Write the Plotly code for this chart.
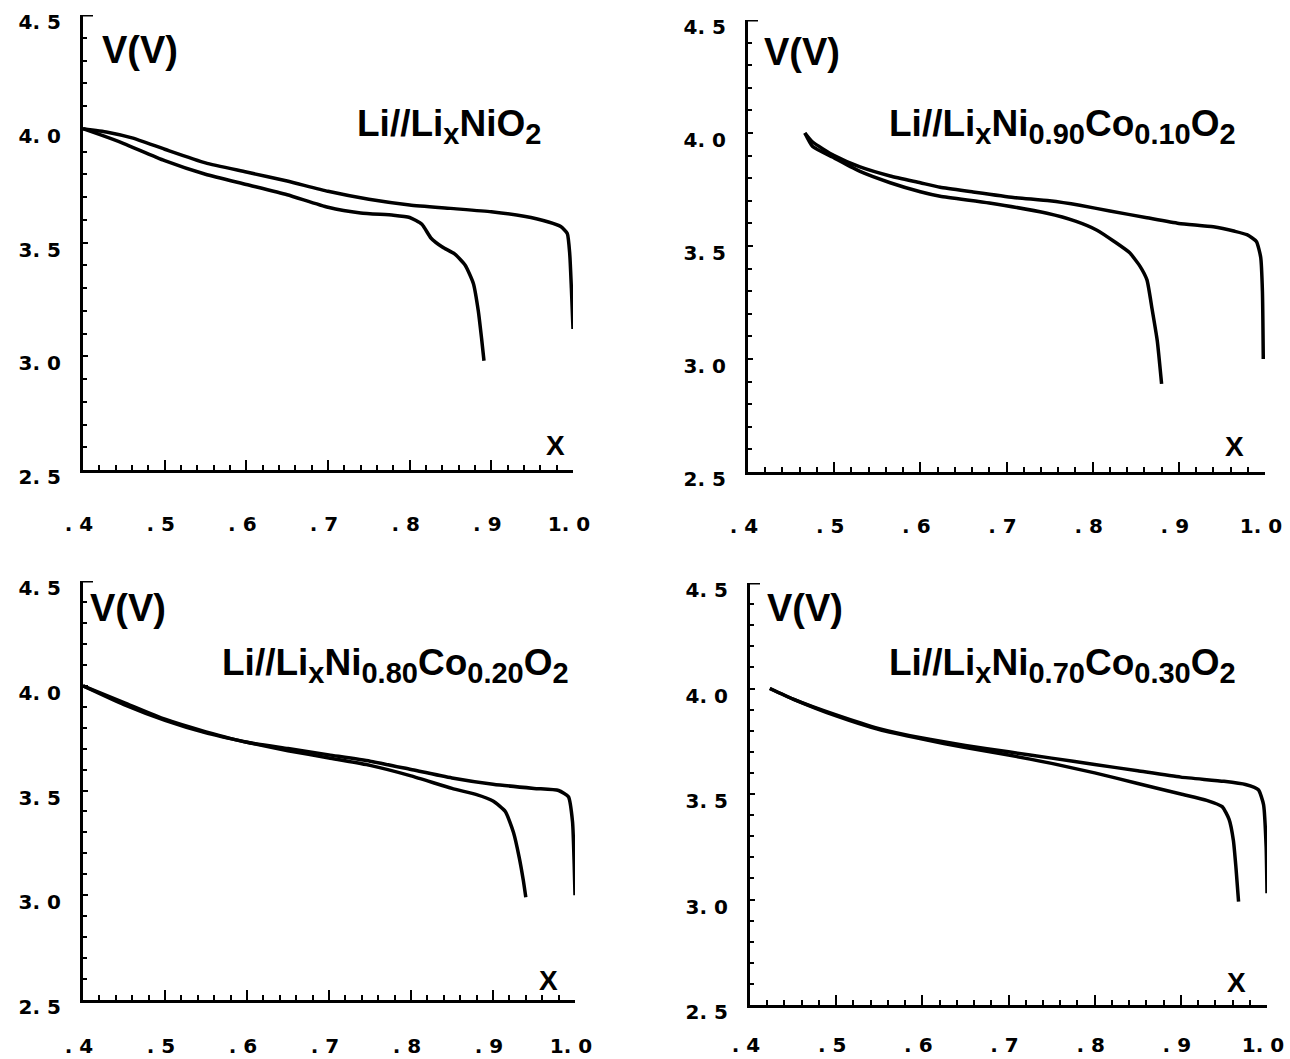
import plotly.graph_objects as go
from plotly.subplots import make_subplots

W, H = 1290, 1059

# ---------------- data ----------------
SUB = '<sub><span style="font-size:29px">{}</span></sub>'
titles = [
    "Li//Li" + SUB.format("x") + "NiO" + SUB.format("2"),
    "Li//Li" + SUB.format("x") + "Ni" + SUB.format("0.90") + "Co" + SUB.format("0.10") + "O" + SUB.format("2"),
    "Li//Li" + SUB.format("x") + "Ni" + SUB.format("0.80") + "Co" + SUB.format("0.20") + "O" + SUB.format("2"),
    "Li//Li" + SUB.format("x") + "Ni" + SUB.format("0.70") + "Co" + SUB.format("0.30") + "O" + SUB.format("2"),
]

x_tickvals = [0.4, 0.5, 0.6, 0.7, 0.8, 0.9, 1.0]
x_ticktext = [". 4", ". 5", ". 6", ". 7", ". 8", ". 9", "1. 0"]
y_tickvals = [2.5, 3.0, 3.5, 4.0, 4.5]
y_ticktext = ["2. 5", "3. 0", "3. 5", "4. 0", "4. 5"]

# panel 1 : LiNiO2
chg1_x = [0.400, 0.430, 0.460, 0.500, 0.550, 0.600, 0.650, 0.700, 0.750, 0.800, 0.850, 0.900, 0.940, 0.970, 0.985, 0.993, 0.996, 0.998, 1.000]
chg1_v = [4.00, 3.985, 3.96, 3.91, 3.85, 3.81, 3.77, 3.725, 3.69, 3.665, 3.65, 3.635, 3.615, 3.59, 3.57, 3.54, 3.45, 3.30, 3.12]
dis1_x = [0.400, 0.420, 0.450, 0.500, 0.550, 0.600, 0.650, 0.700, 0.740, 0.780, 0.800, 0.815, 0.826, 0.840, 0.855, 0.868, 0.878, 0.884, 0.888, 0.891]
dis1_v = [4.00, 3.975, 3.935, 3.86, 3.80, 3.755, 3.71, 3.655, 3.63, 3.62, 3.61, 3.58, 3.52, 3.48, 3.45, 3.40, 3.32, 3.20, 3.08, 2.98]

# panel 2 : Ni0.90Co0.10
chg2_x = [0.466, 0.475, 0.500, 0.530, 0.565, 0.600, 0.623, 0.660, 0.708, 0.750, 0.785, 0.820, 0.863, 0.900, 0.940, 0.965, 0.979, 0.990, 0.995, 0.997, 0.998]
chg2_v = [4.00, 3.96, 3.90, 3.85, 3.81, 3.78, 3.76, 3.74, 3.715, 3.70, 3.68, 3.655, 3.625, 3.60, 3.585, 3.565, 3.55, 3.52, 3.45, 3.30, 3.00]
dis2_x = [0.466, 0.475, 0.500, 0.530, 0.565, 0.600, 0.623, 0.680, 0.747, 0.780, 0.805, 0.825, 0.843, 0.855, 0.863, 0.869, 0.875, 0.880]
dis2_v = [4.00, 3.94, 3.89, 3.83, 3.78, 3.74, 3.72, 3.69, 3.645, 3.61, 3.57, 3.52, 3.47, 3.41, 3.35, 3.22, 3.08, 2.89]

# panel 3 : Ni0.80Co0.20
chg3_x = [0.400, 0.450, 0.500, 0.550, 0.600, 0.650, 0.700, 0.750, 0.800, 0.850, 0.900, 0.950, 0.980, 0.992, 0.997, 0.999, 1.000]
chg3_v = [4.00, 3.92, 3.84, 3.78, 3.73, 3.70, 3.67, 3.64, 3.60, 3.56, 3.53, 3.51, 3.50, 3.47, 3.35, 3.15, 3.00]
dis3_x = [0.400, 0.450, 0.500, 0.550, 0.600, 0.650, 0.700, 0.750, 0.800, 0.850, 0.880, 0.900, 0.915, 0.925, 0.932, 0.937, 0.940]
dis3_v = [4.00, 3.91, 3.835, 3.775, 3.73, 3.69, 3.655, 3.62, 3.57, 3.51, 3.48, 3.45, 3.40, 3.30, 3.18, 3.07, 2.99]

# panel 4 : Ni0.70Co0.30
chg4_x = [0.423, 0.450, 0.500, 0.550, 0.600, 0.650, 0.700, 0.750, 0.800, 0.850, 0.900, 0.950, 0.975, 0.990, 0.996, 0.999, 1.000]
chg4_v = [4.00, 3.95, 3.875, 3.81, 3.765, 3.73, 3.70, 3.67, 3.64, 3.61, 3.58, 3.56, 3.545, 3.52, 3.45, 3.25, 3.03]
dis4_x = [0.423, 0.450, 0.500, 0.550, 0.600, 0.650, 0.700, 0.750, 0.800, 0.850, 0.900, 0.930, 0.948, 0.956, 0.961, 0.964, 0.967]
dis4_v = [4.00, 3.95, 3.87, 3.805, 3.76, 3.72, 3.685, 3.645, 3.60, 3.55, 3.50, 3.47, 3.44, 3.38, 3.28, 3.15, 2.99]

panels = [
    (chg1_x, chg1_v, dis1_x, dis1_v),
    (chg2_x, chg2_v, dis2_x, dis2_v),
    (chg3_x, chg3_v, dis3_x, dis3_v),
    (chg4_x, chg4_v, dis4_x, dis4_v),
]

# ---------------- layout geometry (pixels) ----------------
boxes = [(83, 573, 15, 470), (748, 1265, 20, 472), (83, 575, 581, 1000), (750, 1267, 583, 1005)]
x_standoff = [34, 34, 26, 20]
vlabel_pos = [(100, 50), (762, 52), (88, 608), (765, 608)]
title_pos = [(355, 127), (887, 127), (220, 665), (887, 665)]
xlabel_pos = [(555, 445), (1234, 446), (548, 980), (1236, 982)]


def fx(p):
    return p / W


def fy(p):
    return 1 - p / H


fig = make_subplots(rows=2, cols=2)

for i, (cx, cv, dx, dv) in enumerate(panels):
    r, c = i // 2 + 1, i % 2 + 1
    for xs, vs in ((cx, cv), (dx, dv)):
        fig.add_trace(
            go.Scatter(x=xs, y=vs, mode="lines",
                       line=dict(color="black", width=3.5, shape="spline", smoothing=0.5),
                       showlegend=False, hoverinfo="skip"),
            row=r, col=c,
        )

tickfont = dict(family="DejaVu Sans", size=20, color="black", weight="bold")

for i, (l, rgt, t, b) in enumerate(boxes):
    n = "" if i == 0 else str(i + 1)
    fig.layout["xaxis" + n].update(
        domain=[fx(l), fx(rgt)], range=[0.4, 1.0], automargin=False,
        showline=True, linecolor="black", linewidth=3, showgrid=False, zeroline=False,
        ticks="inside", ticklen=10, tickwidth=2, tickcolor="black",
        tickvals=x_tickvals, ticktext=x_ticktext, tickfont=tickfont,
        ticklabelstandoff=x_standoff[i], ticklabelshift=-4, ticklabeloverflow="allow",
        minor=dict(ticks="inside", dtick=0.02, tick0=0.4, ticklen=5, tickwidth=2, tickcolor="black", showgrid=False),
        fixedrange=True,
    )
    fig.layout["yaxis" + n].update(
        domain=[fy(b), fy(t)], range=[2.5, 4.5], automargin=False,
        showline=True, linecolor="black", linewidth=3, showgrid=False, zeroline=False,
        ticks="inside", ticklen=5, tickwidth=2, tickcolor="black",
        tickvals=y_tickvals, ticktext=y_ticktext, tickfont=tickfont,
        ticklabelstandoff=15, ticklabelshift=7, ticklabeloverflow="allow",
        minor=dict(ticks="inside", dtick=0.1, tick0=2.5, ticklen=4, tickwidth=2, tickcolor="black", showgrid=False),
        fixedrange=True,
    )
    fig.add_shape(type="line", xref="x" + n, yref="y" + n, xsizemode="pixel", xanchor=0.4,
                  x0=0, x1=10, y0=4.5, y1=4.5, line=dict(color="black", width=3))

    vx, vy = vlabel_pos[i]
    fig.add_annotation(text="V(V)", xref="paper", yref="paper", x=fx(vx), y=fy(vy),
                       xanchor="left", yanchor="middle", showarrow=False,
                       font=dict(family="Liberation Sans", size=38, color="black", weight="bold"))
    tx, ty = title_pos[i]
    fig.add_annotation(text=titles[i], xref="paper", yref="paper", x=fx(tx), y=fy(ty),
                       xanchor="left", yanchor="middle", showarrow=False,
                       font=dict(family="Liberation Sans", size=37, color="black", weight="bold"))
    lx, ly = xlabel_pos[i]
    fig.add_annotation(text="X", xref="paper", yref="paper", x=fx(lx), y=fy(ly),
                       xanchor="center", yanchor="middle", showarrow=False,
                       font=dict(family="Liberation Sans", size=28, color="black", weight="bold"))

fig.update_layout(
    width=W, height=H,
    margin=dict(l=0, r=0, t=0, b=0),
    paper_bgcolor="white", plot_bgcolor="white",
    showlegend=False,
)

fig.write_html("out.html", config={"displayModeBar": False},
               post_script="document.body.style.margin='0';document.body.style.overflow='hidden';")
